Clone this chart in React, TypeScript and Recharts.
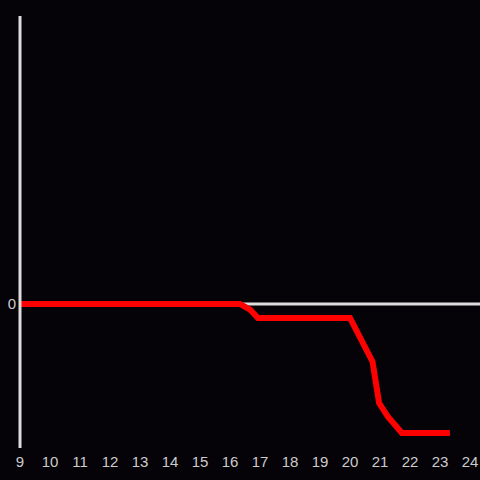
import { LineChart, Line, XAxis, YAxis, ReferenceLine } from 'recharts';

// hour of day vs. value
const hours = [9, 16.33, 16.67, 16.93, 20, 20.75, 20.97, 21.27, 21.73, 23.33];
const values = [0, 0, -4, -9.7, -9.7, -40, -68.75, -78.5, -89.6, -89.6];
const xTicks = [9, 10, 11, 12, 13, 14, 15, 16, 17, 18, 19, 20, 21, 22, 23, 24];
const yTicks = [0];

const data = hours.map((h, i) => ({ h, v: values[i] }));

export default function App() {
  return (
    <div style={{ position: 'fixed', left: 0, top: 0, width: 480, height: 480, background: '#050308' }}>
      <LineChart width={480} height={480} data={data} margin={{ top: 16, right: 0, bottom: 0, left: 0 }}>
        <XAxis
          dataKey="h"
          type="number"
          domain={[9, 24.333]}
          ticks={xTicks}
          axisLine={false}
          tickLine={false}
          tickSize={0}
          tickMargin={8}
          height={32}
          tick={{ fill: '#cccccc', fontSize: 15, fontFamily: 'Liberation Sans' }}
        />
        <YAxis
          type="number"
          domain={[-100, 200]}
          ticks={yTicks}
          width={20}
          tickLine={false}
          tickSize={0}
          tickMargin={4}
          axisLine={{ stroke: '#dddddd', strokeWidth: 3 }}
          tick={{ fill: '#cccccc', fontSize: 15, fontFamily: 'Liberation Sans' }}
        />
        <ReferenceLine y={0} stroke="#dddddd" strokeWidth={3} />
        <Line
          type="linear"
          dataKey="v"
          stroke="#ff0000"
          strokeWidth={6}
          dot={false}
          isAnimationActive={false}
        />
      </LineChart>
    </div>
  );
}
